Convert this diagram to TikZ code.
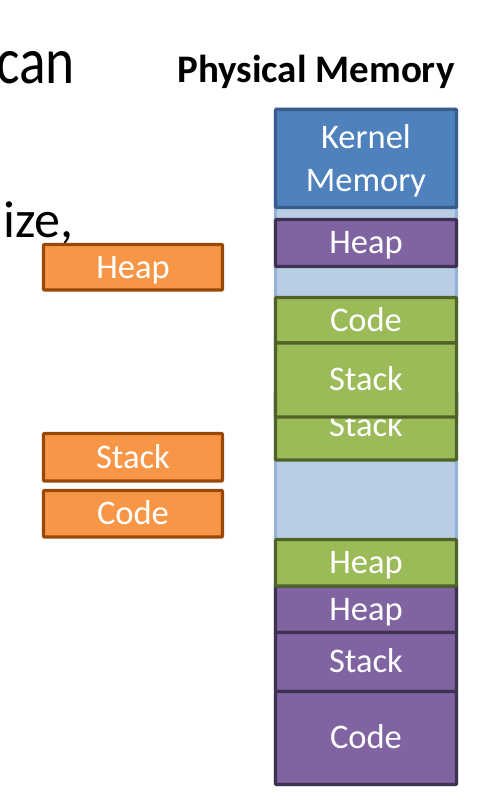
\documentclass[tikz,border=0pt]{standalone}
\usepackage{fontspec}
\setmainfont{Carlito}
\definecolor{colfill}{HTML}{B9CDE5}
\definecolor{colline}{HTML}{95B3D7}
\definecolor{kfill}{HTML}{4F81BD}
\definecolor{kline}{HTML}{385D8A}
\definecolor{pfill}{HTML}{8064A2}
\definecolor{pline}{HTML}{3F3151}
\definecolor{gfill}{HTML}{9BBB59}
\definecolor{gline}{HTML}{4F6228}
\definecolor{ofill}{HTML}{F79646}
\definecolor{oline}{HTML}{984807}
\begin{document}
\begin{tikzpicture}[x=1pt,y=-1pt,
  seg/.style={line width=3.3pt, rounded corners=1pt, inner sep=0pt, outer sep=0pt,
    anchor=north west, text=white, font=\fontsize{34.5}{40}\selectfont,
    text height=21.8pt, text depth=0pt},
  kseg/.style={seg, fill=kfill, draw=kline},
  pseg/.style={seg, fill=pfill, draw=pline},
  gseg/.style={seg, fill=gfill, draw=gline},
  oseg/.style={seg, fill=ofill, draw=oline},
  colw/.style={minimum width=181pt},
  orgw/.style={minimum width=179pt},
  lbl/.style={anchor=base, text=white, inner sep=0pt, font=\fontsize{34.5}{40}\selectfont}
]
\useasboundingbox (0,0) rectangle (480,812);
% partial slide text
\node[anchor=base east, inner sep=0pt, font=\fontsize{66}{70}\selectfont] (can) at (75,83) {\scalebox{0.84}[1]{can}};
\node[anchor=base east, inner sep=0pt, font=\fontsize{52}{60}\selectfont] (ize) at (74,237) {ize,};
\node[anchor=base, inner sep=0pt, font=\fontsize{39}{44}\selectfont\bfseries] (title) at (316,82) {Physical Memory};
% physical memory column
\node[seg, fill=colfill, draw=colline, colw, minimum height=675.5pt] (col) at (275.5,109) {};
\node[kseg, colw, minimum height=98pt] (kern) at (275.5,109.5) {};
\node[lbl] (kern1) at (366,148) {Kernel};
\node[lbl] (kern2) at (366,191) {Memory};
\node[pseg, colw, minimum height=47pt] (pheapA) at (275.5,219.5) {Heap};
\node[gseg, colw, minimum height=68pt] (gstackB) at (275.5,392) {Stack};
\node[gseg, colw, minimum height=45.5pt] (gcode) at (275.5,297.5) {Code};
\node[gseg, colw, minimum height=74pt] (gstackA) at (275.5,343) {Stack};
\node[pseg, colw, minimum height=46.5pt] (pheapB) at (275.5,586) {Heap};
\node[pseg, colw, minimum height=59pt] (pstack) at (275.5,632.5) {Stack};
\node[pseg, colw, minimum height=93pt] (pcode) at (275.5,691.5) {Code};
\node[gseg, colw, minimum height=46.5pt] (gheap) at (275.5,539.5) {Heap};
% orange segments
\node[oseg, orgw, minimum height=45.5pt] (oheap) at (43.5,244.5) {Heap};
\node[oseg, orgw, minimum height=47.5pt] (ostack) at (43.5,433.5) {Stack};
\node[oseg, orgw, minimum height=46.5pt] (ocode) at (43.5,490.5) {Code};
\end{tikzpicture}
\end{document}
